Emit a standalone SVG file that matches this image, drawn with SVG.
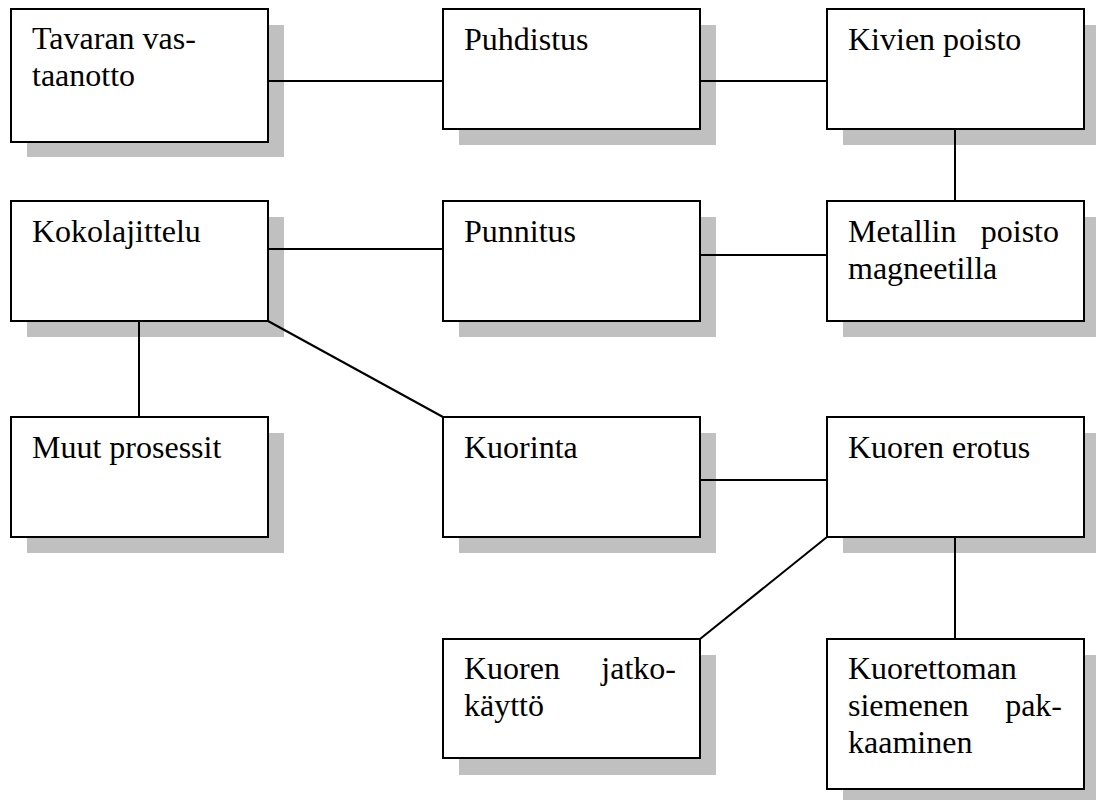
<svg xmlns="http://www.w3.org/2000/svg" width="1096" height="800" viewBox="0 0 1096 800">
<style>
.sh{fill:#c0c0c0}
.bx{fill:#fff;stroke:#000;stroke-width:2}
.t{font-family:'Liberation Serif','Times New Roman','DejaVu Serif',serif;font-size:32px;fill:#000}
.e{text-anchor:end}
.c line{stroke:#000;stroke-width:2}
</style>
<rect width="1096" height="800" fill="#fff"/>
<g id="n1"><rect class="sh" x="27" y="25" width="257" height="132"/><rect class="bx" x="11" y="9" width="257" height="133"/><text class="t" x="32" y="49">Tavaran vas-</text><text class="t" x="32" y="86">taanotto</text></g>
<g id="n2"><rect class="sh" x="459" y="25" width="257" height="120"/><rect class="bx" x="443" y="9" width="257" height="120"/><text class="t" x="464" y="50">Puhdistus</text></g>
<g id="n3"><rect class="sh" x="843" y="25" width="257" height="120"/><rect class="bx" x="827" y="9" width="257" height="120"/><text class="t" x="848" y="50">Kivien poisto</text></g>
<g id="n4"><rect class="sh" x="27" y="217" width="257" height="120"/><rect class="bx" x="11" y="201" width="257" height="120"/><text class="t" x="32" y="242">Kokolajittelu</text></g>
<g id="n5"><rect class="sh" x="459" y="217" width="257" height="120"/><rect class="bx" x="443" y="201" width="257" height="120"/><text class="t" x="464" y="242">Punnitus</text></g>
<g id="n6"><rect class="sh" x="843" y="217" width="257" height="120"/><rect class="bx" x="827" y="201" width="257" height="120"/><text class="t" x="848" y="242">Metallin</text><text class="t e" x="1059" y="242">poisto</text><text class="t" x="848" y="279">magneetilla</text></g>
<g id="n7"><rect class="sh" x="27" y="433" width="257" height="120"/><rect class="bx" x="11" y="417" width="257" height="120"/><text class="t" x="32" y="458">Muut prosessit</text></g>
<g id="n8"><rect class="sh" x="459" y="433" width="257" height="120"/><rect class="bx" x="443" y="417" width="257" height="120"/><text class="t" x="464" y="458">Kuorinta</text></g>
<g id="n9"><rect class="sh" x="843" y="433" width="257" height="120"/><rect class="bx" x="827" y="417" width="257" height="120"/><text class="t" x="848" y="458">Kuoren erotus</text></g>
<g id="n10"><rect class="sh" x="459" y="655" width="257" height="120"/><rect class="bx" x="443" y="639" width="257" height="119"/><text class="t" x="464" y="679">Kuoren</text><text class="t e" x="676" y="679">jatko-</text><text class="t" x="464" y="716">käyttö</text></g>
<g id="n11"><rect class="sh" x="843" y="655" width="257" height="150"/><rect class="bx" x="827" y="639" width="257" height="150"/><text class="t" x="848" y="679">Kuorettoman</text><text class="t" x="848" y="716">siemenen</text><text class="t e" x="1062" y="716">pak-</text><text class="t" x="848" y="753">kaaminen</text></g>
<g id="connectors" class="c">
<line x1="268" y1="81" x2="443" y2="81"/>
<line x1="700" y1="81" x2="827" y2="81"/>
<line x1="955" y1="129" x2="955" y2="201"/>
<line x1="268" y1="249" x2="443" y2="249"/>
<line x1="700" y1="255" x2="827" y2="255"/>
<line x1="139" y1="321" x2="139" y2="417"/>
<line x1="268" y1="321" x2="443" y2="417"/>
<line x1="700" y1="480" x2="827" y2="480"/>
<line x1="827" y1="537" x2="700" y2="639"/>
<line x1="955" y1="537" x2="955" y2="639"/>
</g>
</svg>
